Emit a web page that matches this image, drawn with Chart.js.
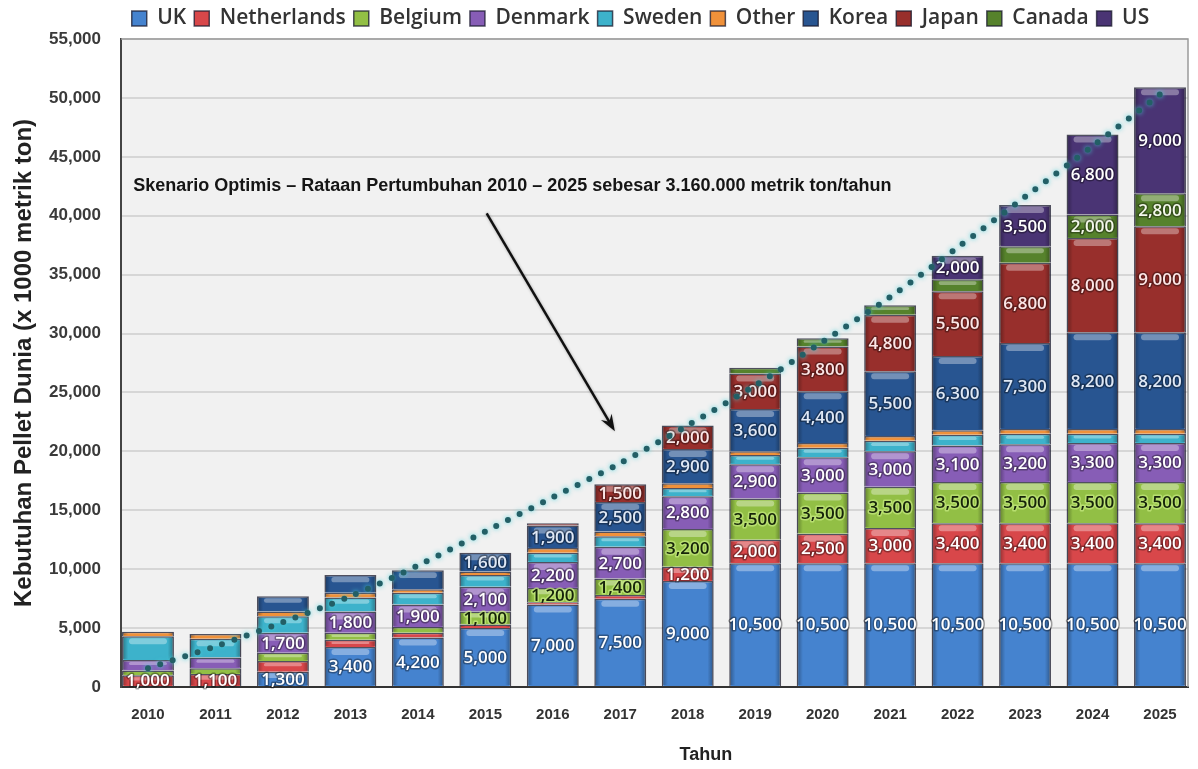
<!DOCTYPE html>
<html lang="id">
<head>
<meta charset="UTF-8">
<title>Kebutuhan Pellet Dunia</title>
<script src="https://cdn.jsdelivr.net/npm/chart.js"></script>
<style>
  body { margin: 0; background: #fff; }
</style>
</head>
<body>
<canvas id="pelletChart" width="1198" height="769"></canvas>
<script>
// demand per country, x 1000 metric ton
const years = ['2010', '2011', '2012', '2013', '2014', '2015', '2016', '2017',
               '2018', '2019', '2020', '2021', '2022', '2023', '2024', '2025'];

const uk          = [0, 0, 1300, 3400, 4200, 5000, 7000, 7500, 9000, 10500, 10500, 10500, 10500, 10500, 10500, 10500];
const netherlands = [1000, 1100, 900, 600, 400, 300, 200, 300, 1200, 2000, 2500, 3000, 3400, 3400, 3400, 3400];
const belgium     = [400, 500, 700, 600, 500, 1100, 1200, 1400, 3200, 3500, 3500, 3500, 3500, 3500, 3500, 3500];
const denmark     = [900, 900, 1700, 1800, 1900, 2100, 2200, 2700, 2800, 2900, 3000, 3000, 3100, 3200, 3300, 3300];
const sweden      = [2000, 1600, 1400, 1200, 1000, 1000, 800, 900, 700, 800, 800, 900, 900, 900, 800, 800];
const other       = [400, 400, 400, 400, 300, 300, 400, 400, 400, 300, 400, 400, 400, 400, 400, 400];
const korea       = [0, 0, 1300, 1500, 1600, 1600, 1900, 2500, 2900, 3600, 4400, 5500, 6300, 7300, 8200, 8200];
const japan       = [0, 0, 0, 0, 0, 0, 200, 1500, 2000, 3000, 3800, 4800, 5500, 6800, 8000, 9000];
const canada      = [0, 0, 0, 0, 0, 0, 0, 0, 0, 500, 700, 800, 1000, 1400, 2000, 2800];
const us          = [0, 0, 0, 0, 0, 0, 0, 0, 0, 0, 0, 0, 2000, 3500, 6800, 9000];

// optimistic scenario trend
const trend = [1600, 3450, 5500, 7700, 10300, 13200, 16100, 19000, 22200, 25600, 29300, 33100, 37300, 41600, 45900, 50300];

const countries = ['UK', 'Netherlands', 'Belgium', 'Denmark', 'Sweden', 'Other', 'Korea', 'Japan', 'Canada', 'US'];
const series = [uk, netherlands, belgium, denmark, sweden, other, korea, japan, canada, us];
// first year from which a country's segments carry a value label (null = never)
const labelFromYear = ['2010', '2010', '2010', '2012', null, null, '2015', '2010', '2024', '2010'];

const noteText = 'Skenario Optimis \u2013 Rataan Pertumbuhan 2010 \u2013 2025 sebesar 3.160.000 metrik ton/tahun';

const fills = ['#4583cf', '#d8474a', '#92bf45', '#875db6', '#3db2cb', '#f0913a', '#285591', '#982f2c', '#56822c', '#4a3474'];
const labelInk = ['#ffffff', '#ffffff', '#16240a', '#ffffff', '#ffffff', '#ffffff', '#dfe8f5', '#fbe6e6', '#f4f8ec', '#ffffff'];

const datasets = series.map((vals, i) => ({
    type: 'bar',
    label: countries[i],
    data: vals,
    backgroundColor: fills[i],
    borderColor: 'rgba(25,25,45,0.75)',
    borderWidth: 1.5,
    stack: 'demand',
    order: 2
}));

datasets.push({
    type: 'line',
    label: 'trend',
    data: trend,
    borderColor: '#235f66',
    borderWidth: 6,
    borderDash: [0, 13],
    borderCapStyle: 'round',
    pointRadius: 0,
    tension: 0.3,
    fill: false,
    stack: 'trend',
    order: 1
});

// glossy look + value labels on the stacked segments
const barStyle = {
    id: 'barStyle',
    beforeDraw(chart) {
        const {ctx, chartArea: a} = chart;
        ctx.save();
        ctx.fillStyle = '#f1f1f1';
        ctx.fillRect(a.left, a.top, a.right - a.left, a.bottom - a.top);
        ctx.restore();
    },
    afterLayout(chart) {
        // move the legend over the plot area
        const lg = chart.legend;
        const shift = (chart.chartArea.left + chart.chartArea.right) / 2 - (lg.left + lg.right) / 2 - 14;
        lg.left += shift;
        lg.right += shift;
    },
    beforeDatasetDraw(chart, args) {
        if (args.meta.type === 'line') {
            const ctx = chart.ctx;
            ctx.save();
            ctx.shadowColor = 'rgba(70,210,220,0.9)';
            ctx.shadowBlur = 5;
        }
    },
    afterDatasetDraw(chart, args) {
        const ctx = chart.ctx;
        const meta = args.meta;
        if (meta.type === 'line') {
            ctx.restore();
            return;
        }
        const idx = args.index;
        const vals = series[idx];
        const from = labelFromYear[idx] === null ? Infinity : years.indexOf(labelFromYear[idx]);
        meta.data.forEach((bar, i) => {
            if (!vals[i]) return;
            const {x, y, base, width} = bar.getProps(['x', 'y', 'base', 'width'], true);
            const top = Math.min(y, base), h = Math.abs(base - y);
            const left = x - width / 2;
            ctx.save();
            // darker sides
            const g = ctx.createLinearGradient(left, 0, left + width, 0);
            g.addColorStop(0, 'rgba(0,0,0,0.35)');
            g.addColorStop(0.12, 'rgba(0,0,0,0)');
            g.addColorStop(0.88, 'rgba(0,0,0,0)');
            g.addColorStop(1, 'rgba(0,0,0,0.35)');
            ctx.fillStyle = g;
            ctx.fillRect(left + 1, top + 1, width - 2, h - 2);
            // highlight near the top edge
            if (h > 6) {
                const hh = Math.min(6, h * 0.3);
                ctx.fillStyle = 'rgba(255,255,255,0.35)';
                ctx.beginPath();
                ctx.roundRect(left + 7, top + 2, width - 14, hh, hh / 2);
                ctx.fill();
            }
            ctx.restore();

            if (i >= from && vals[i] >= 1000) {
                ctx.save();
                ctx.font = '600 17px "Open Sans"';
                ctx.textAlign = 'center';
                ctx.textBaseline = 'middle';
                ctx.lineJoin = 'round';
                ctx.lineWidth = 3;
                ctx.strokeStyle = idx === 2 ? 'rgba(200,235,130,0.7)' : 'rgba(0,0,0,0.35)';
                const txt = vals[i].toLocaleString('en-US');
                const cy = (y + base) / 2 + 1;
                ctx.strokeText(txt, x, cy);
                ctx.fillStyle = labelInk[idx];
                ctx.fillText(txt, x, cy);
                ctx.restore();
            }
        });
    },
    afterDraw(chart) {
        const {ctx, chartArea: a, scales: {x: xs, y: ys}} = chart;
        ctx.save();
        // frame on top and right of the plot
        ctx.strokeStyle = '#9a9a9a';
        ctx.lineWidth = 1.5;
        ctx.beginPath();
        ctx.moveTo(a.left, a.top);
        ctx.lineTo(a.right, a.top);
        ctx.lineTo(a.right, a.bottom);
        ctx.stroke();

        // x axis title
        ctx.font = 'bold 18px "Liberation Sans"';
        ctx.fillStyle = '#222';
        ctx.textAlign = 'center';
        ctx.textBaseline = 'middle';
        ctx.fillText('Tahun', xs.getPixelForValue(8.27), 755);

        // scenario note
        ctx.font = 'bold 18px "Liberation Sans"';
        ctx.fillStyle = '#151515';
        ctx.textAlign = 'left';
        ctx.fillText(noteText, xs.getPixelForValue(-0.22), ys.getPixelForValue(42500));

        // arrow pointing to the trend line
        const x0 = xs.getPixelForValue(5.02), y0 = ys.getPixelForValue(40200);
        const x1 = xs.getPixelForValue(6.92), y1 = ys.getPixelForValue(21700);
        const ang = Math.atan2(y1 - y0, x1 - x0);
        ctx.strokeStyle = '#111';
        ctx.fillStyle = '#111';
        ctx.lineWidth = 2.5;
        ctx.shadowColor = 'rgba(0,0,0,0.3)';
        ctx.shadowBlur = 3;
        ctx.beginPath();
        ctx.moveTo(x0, y0);
        ctx.lineTo(x1 - 8 * Math.cos(ang), y1 - 8 * Math.sin(ang));
        ctx.stroke();
        ctx.beginPath();
        ctx.moveTo(x1, y1);
        ctx.lineTo(x1 - 18 * Math.cos(ang - 0.35), y1 - 18 * Math.sin(ang - 0.35));
        ctx.lineTo(x1 - 11 * Math.cos(ang), y1 - 11 * Math.sin(ang));
        ctx.lineTo(x1 - 18 * Math.cos(ang + 0.35), y1 - 18 * Math.sin(ang + 0.35));
        ctx.closePath();
        ctx.fill();
        ctx.restore();
    }
};

new Chart(document.getElementById('pelletChart'), {
    data: { labels: years, datasets: datasets },
    options: {
        responsive: false,
        animation: false,
        layout: { padding: { left: 6, right: 10, top: 0, bottom: 34 } },
        datasets: { bar: { categoryPercentage: 0.77, barPercentage: 1 } },
        plugins: {
            legend: {
                position: 'top',
                labels: {
                    font: { family: 'Open Sans', size: 21, weight: '600' },
                    color: '#333',
                    boxWidth: 15,
                    boxHeight: 15,
                    padding: 8,
                    filter: item => item.datasetIndex < countries.length
                }
            },
            tooltip: { enabled: false }
        },
        scales: {
            x: {
                stacked: true,
                grid: { display: false },
                border: { display: true, color: '#333', width: 2 },
                ticks: { font: { family: 'Liberation Sans', size: 15, weight: 'bold' }, color: '#333', padding: 11 },
                // bars sit a little closer to the frame than half a category
                afterUpdate: s => {
                    s._startValue = -0.4;
                    s._valueRange = years.length - 0.185;
                }
            },
            y: {
                stacked: true,
                min: 0,
                max: 55000,
                afterFit: s => { s.width = 115; },
                ticks: {
                    stepSize: 5000,
                    callback: v => v.toLocaleString('en-US'),
                    font: { family: 'Liberation Sans', size: 17, weight: 'bold' },
                    color: '#3a3a3a',
                    padding: 20
                },
                grid: { color: '#d6d6d6', lineWidth: 2, drawTicks: false },
                border: { color: '#444', width: 2 },
                title: { display: true, text: 'Kebutuhan Pellet Dunia (x 1000 metrik ton)', font: { family: 'Liberation Sans', size: 24, weight: 'bold' }, color: '#222', padding: { bottom: 8 } }
            }
        }
    },
    plugins: [barStyle]
});
</script>
</body>
</html>
